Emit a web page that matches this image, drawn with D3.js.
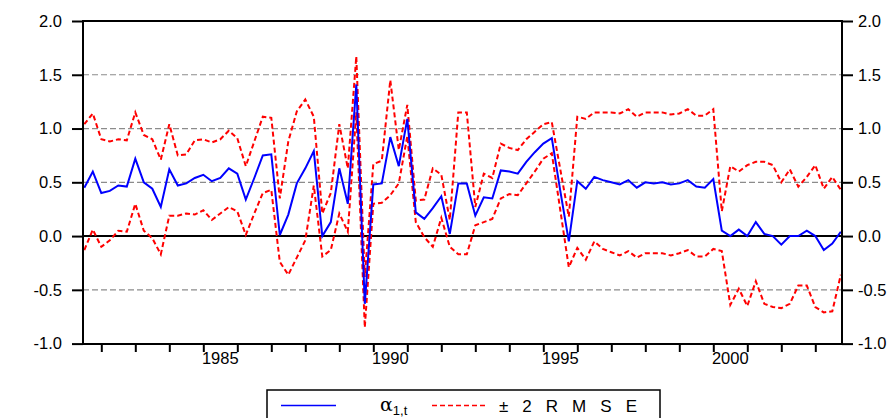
<!DOCTYPE html>
<html>
<head>
<meta charset="utf-8">
<script src="https://cdn.jsdelivr.net/npm/d3@7"></script>
<style>
  html, body { margin: 0; padding: 0; background: #fff; }
  svg { display: block; }
  text { font-family: "Liberation Sans", Arial, sans-serif; }
</style>
</head>
<body>
<svg id="chart" width="896" height="418"></svg>
<script>
// Quarterly observations 1981Q3 .. 2003Q4
const startYear = 1981.5;
const alpha = [0.45,0.60,0.40,0.42,0.47,0.46,0.72,0.50,0.44,0.27,
  0.62,0.47,0.49,0.54,0.57,0.51,0.54,0.63,0.58,0.34,
  0.54,0.75,0.76,0.01,0.20,0.49,0.63,0.79,0.00,0.13,
  0.63,0.30,1.41,-0.63,0.48,0.49,0.92,0.65,1.09,0.22,
  0.16,0.26,0.37,0.02,0.49,0.49,0.19,0.36,0.35,0.61,
  0.60,0.58,0.69,0.78,0.86,0.91,0.42,-0.05,0.51,0.44,
  0.55,0.52,0.50,0.48,0.52,0.45,0.50,0.49,0.50,0.48,
  0.49,0.52,0.46,0.45,0.53,0.05,0.00,0.06,0.00,0.13,
  0.02,0.00,-0.08,0.00,0.00,0.05,0.00,-0.13,-0.07,0.04];
const upper = [1.04,1.14,0.90,0.88,0.90,0.89,1.15,0.94,0.90,0.71,
  1.04,0.75,0.76,0.89,0.90,0.87,0.90,0.98,0.91,0.65,
  0.88,1.11,1.10,0.35,0.88,1.16,1.27,1.11,0.21,0.40,
  1.04,0.63,1.67,-0.38,0.67,0.70,1.45,0.80,1.22,0.33,
  0.34,0.63,0.57,0.15,1.15,1.15,0.27,0.58,0.54,0.86,
  0.82,0.80,0.90,0.97,1.04,1.06,0.62,0.18,1.11,1.09,
  1.15,1.15,1.15,1.14,1.18,1.11,1.15,1.15,1.15,1.13,
  1.14,1.18,1.12,1.12,1.18,0.23,0.65,0.60,0.66,0.69,
  0.69,0.66,0.50,0.62,0.46,0.55,0.66,0.44,0.55,0.43];
const lower = [-0.13,0.06,-0.10,-0.04,0.05,0.04,0.30,0.05,-0.02,-0.17,
  0.19,0.19,0.21,0.20,0.24,0.15,0.21,0.27,0.23,0.01,
  0.21,0.40,0.43,-0.24,-0.36,-0.20,-0.04,0.47,-0.19,-0.13,
  0.21,0.04,1.15,-0.85,0.30,0.31,0.38,0.49,0.93,0.13,
  -0.01,-0.10,0.17,-0.10,-0.17,-0.17,0.10,0.13,0.16,0.35,
  0.39,0.38,0.49,0.60,0.72,0.77,0.24,-0.29,-0.11,-0.22,
  -0.05,-0.12,-0.15,-0.18,-0.14,-0.20,-0.16,-0.16,-0.16,-0.18,
  -0.16,-0.13,-0.19,-0.19,-0.12,-0.14,-0.64,-0.49,-0.65,-0.42,
  -0.63,-0.66,-0.67,-0.63,-0.46,-0.46,-0.66,-0.71,-0.70,-0.36];
const yTicks = [-1.0, -0.5, 0.0, 0.5, 1.0, 1.5, 2.0];
const gridVals = [-0.5, 0.5, 1.0, 1.5];
const yearTicks = d3.range(1982, 2004);
const yearLabels = [1985, 1990, 1995, 2000];
const legendLabels = ["\u03B1", "1,t", "\u00B1 2 R M S E"];

const svg = d3.select("#chart");
const L = 83, R = 842, T = 21, B = 344;
const x = d3.scaleLinear().domain([startYear, startYear + (alpha.length - 1) / 4]).range([84.3, 840.8]);
const y = d3.scaleLinear().domain([-1, 2]).range([343.6, 21]);
const t = i => startYear + i / 4;
const fmt = d => d.toFixed(1);

// gridlines
svg.append("g").selectAll("line").data(gridVals).join("line")
  .attr("x1", L).attr("x2", R)
  .attr("y1", d => y(d)).attr("y2", d => y(d))
  .attr("stroke", "#8c8c8c").attr("stroke-width", 1.2)
  .attr("stroke-dasharray", "6,3");

// zero line
svg.append("line").attr("x1", L).attr("x2", R)
  .attr("y1", y(0)).attr("y2", y(0))
  .attr("stroke", "#000").attr("stroke-width", 2);

// axes
const axL = d3.axisLeft(y).tickValues(yTicks).tickSize(11).tickPadding(10).tickFormat(fmt);
const axR = d3.axisRight(y).tickValues(yTicks).tickSize(11).tickPadding(5).tickFormat(fmt);
const axB = d3.axisBottom(x).tickValues(yearTicks).tickSize(8).tickFormat("");
function style(g) {
  g.select(".domain").remove();
  g.selectAll(".tick line").attr("stroke", "#000").attr("stroke-width", 2);
  g.selectAll(".tick text").attr("fill", "#000").style("font-size", "16.5px")
    .style("font-family", "'Liberation Sans', Arial, sans-serif");
}
svg.append("g").attr("transform", `translate(${L},0)`).call(axL).call(style);
svg.append("g").attr("transform", `translate(${R},0)`).call(axR).call(style);
svg.append("g").attr("transform", `translate(0,${B})`).call(axB).call(style);

svg.append("g").selectAll("text").data(yearLabels).join("text")
  .attr("x", d => x(d + 0.5)).attr("y", 364)
  .attr("text-anchor", "middle").attr("font-size", 16.5).attr("fill", "#000")
  .text(d => d);

// series
const line = d3.line().x((d, i) => x(t(i))).y(d => y(d));
svg.append("path").datum(upper).attr("d", line).attr("fill", "none")
  .attr("stroke", "#ff0000").attr("stroke-width", 2).attr("stroke-dasharray", "5,3");
svg.append("path").datum(lower).attr("d", line).attr("fill", "none")
  .attr("stroke", "#ff0000").attr("stroke-width", 2).attr("stroke-dasharray", "5,3");
svg.append("path").datum(alpha).attr("d", line).attr("fill", "none")
  .attr("stroke", "#0000ff").attr("stroke-width", 2);

// frame
svg.append("rect").attr("x", L).attr("y", T).attr("width", R - L).attr("height", B - T)
  .attr("fill", "none").attr("stroke", "#000").attr("stroke-width", 2);

// legend
const lg = svg.append("g");
lg.append("rect").attr("x", 267).attr("y", 390).attr("width", 393).attr("height", 40)
  .attr("fill", "#fff").attr("stroke", "#000").attr("stroke-width", 1.5);
lg.append("line").attr("x1", 281).attr("x2", 336).attr("y1", 405.5).attr("y2", 405.5)
  .attr("stroke", "#0000ff").attr("stroke-width", 1.5);
const at = lg.append("text").attr("x", 380).attr("y", 411).attr("font-size", 19).attr("fill", "#000");
at.append("tspan").text(legendLabels[0]).attr("font-family", "'DejaVu Serif', serif");
at.append("tspan").text(legendLabels[1]).attr("font-size", 13).attr("dy", 4);
lg.append("line").attr("x1", 432).attr("x2", 488).attr("y1", 405.5).attr("y2", 405.5)
  .attr("stroke", "#ff0000").attr("stroke-width", 1.5).attr("stroke-dasharray", "5,3");
lg.append("text").attr("x", 499).attr("y", 412).attr("font-size", 17).attr("fill", "#000")
  .attr("textLength", 138).attr("lengthAdjust", "spacing").text(legendLabels[2]);
</script>
</body>
</html>
